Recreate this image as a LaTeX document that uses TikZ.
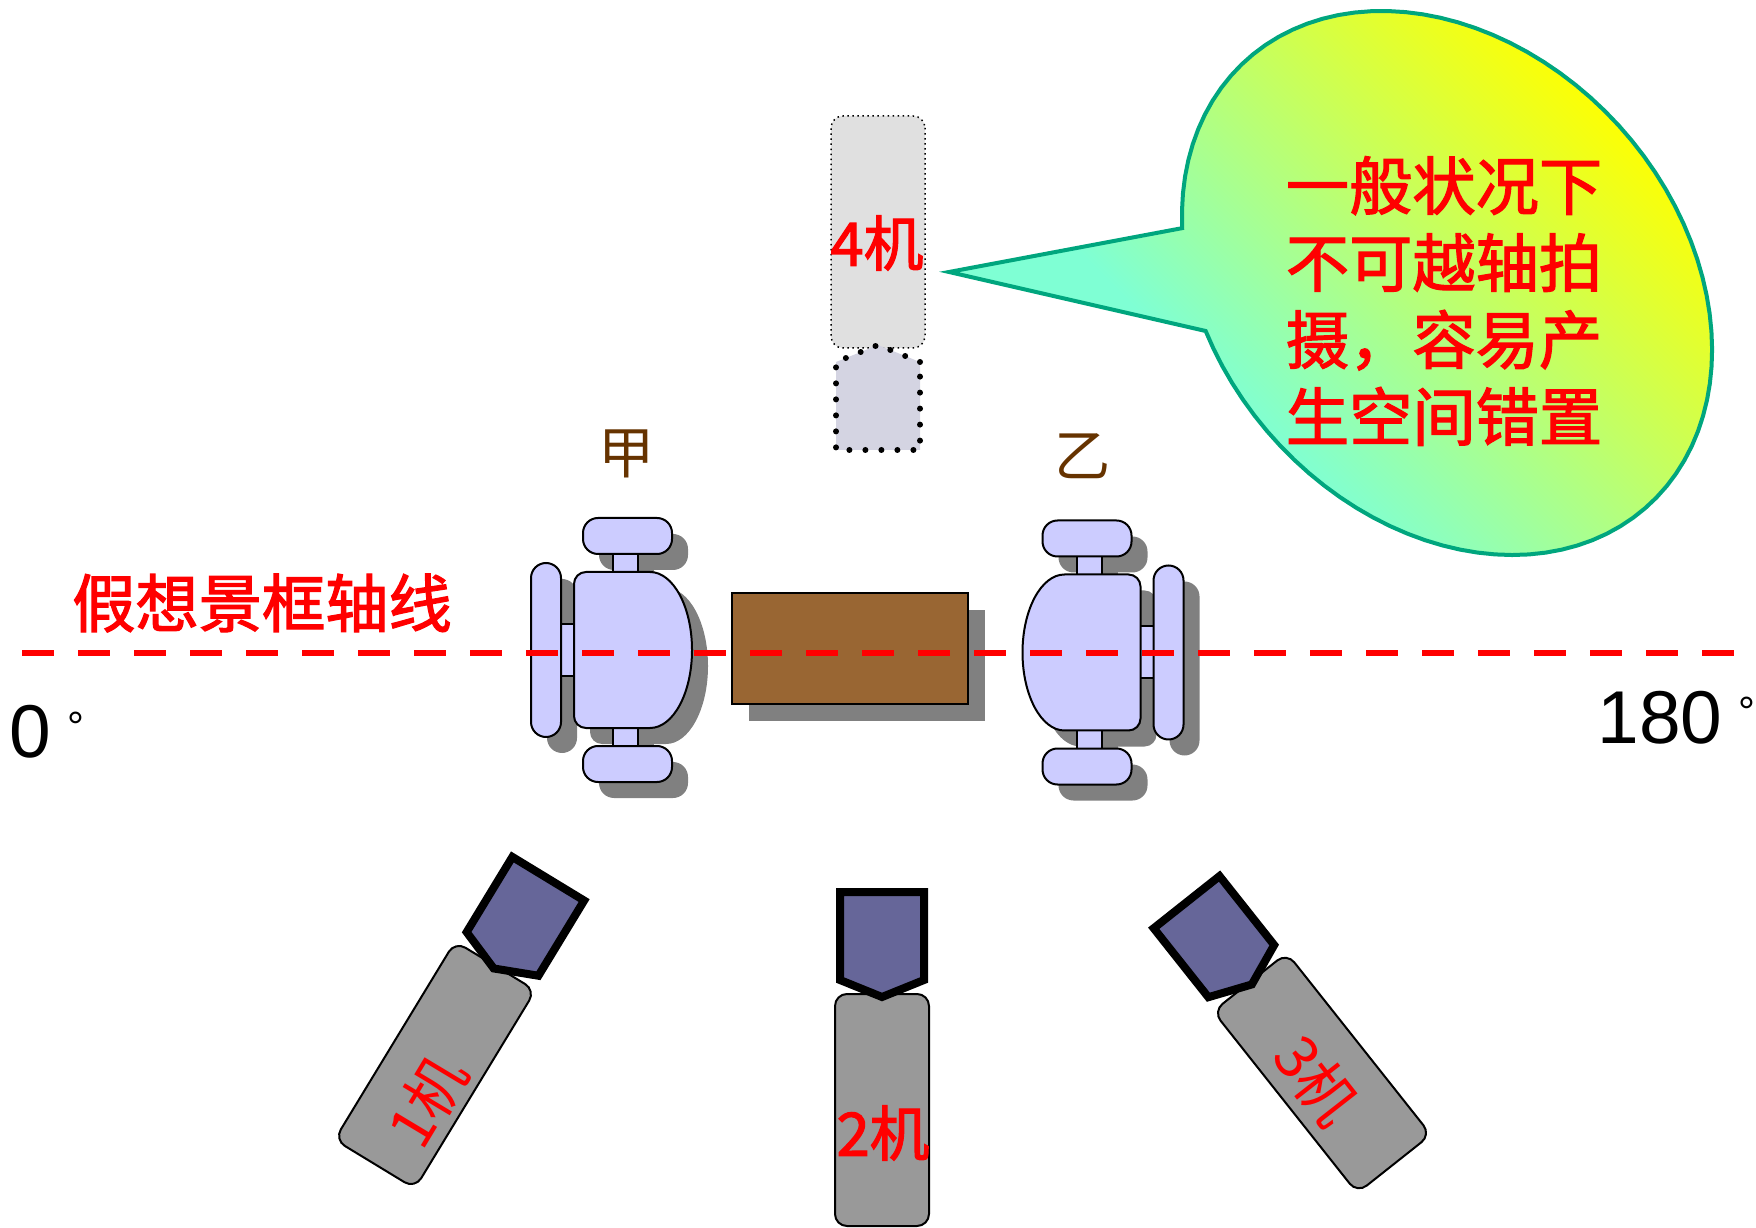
\documentclass[tikz,border=0pt]{standalone}
\usepackage{fontspec}
\setmainfont{Liberation Sans}
\newfontfamily\cjk{Noto Sans CJK SC}[AutoFakeBold=2]

\definecolor{seatblue}{RGB}{204,204,255}
\definecolor{shadowgray}{RGB}{128,128,128}
\definecolor{deskbrown}{RGB}{153,102,51}
\definecolor{bodygray}{RGB}{153,153,153}
\definecolor{lensblue}{RGB}{102,102,153}
\definecolor{namebrown}{RGB}{102,51,0}
\definecolor{bubbleline}{RGB}{0,166,126}
\definecolor{aqua}{RGB}{127,255,212}
\definecolor{ghostgray}{RGB}{224,224,224}
\definecolor{ghostlens}{RGB}{212,212,226}

% aqua in the lower left, yellow in the upper right
\pgfdeclareverticalshading{bubblefill}{100bp}{color(0bp)=(aqua); color(38bp)=(aqua); color(75bp)=(yellow); color(100bp)=(yellow)}

\tikzset{
  chairpart/.style={fill=seatblue, draw=black, line width=0.02cm},
  chairshadow/.style={fill=shadowgray, draw=none},
  cambody/.style={fill=bodygray, draw=black, line width=0.02cm},
  camlens/.style={fill=lensblue, draw=black, line width=0.08cm, line join=miter},
  camlabel/.style={text=red, inner sep=0, font=\cjk\fontsize{17}{17}\selectfont},
  namelabel/.style={text=namebrown, inner sep=0, font=\cjk\fontsize{16}{16}\selectfont},
  anglabel/.style={inner sep=0, anchor=base west, font=\fontsize{21.3}{24}\selectfont},
  axisline/.style={red, line width=0.06cm, dash pattern=on 0.32cm off 0.24cm},
  bubble/.style={draw=bubbleline, line width=0.04cm, shading=bubblefill, shading angle=-45},
  % chair seen from above, back rest on the left
  chair/.pic={
    \path[pic actions] (-0.20,0.77) rectangle (0.05,0.97);
    \path[pic actions] (-0.20,-0.97) rectangle (0.05,-0.77);
    \path[pic actions, rounded corners=0.15cm] (-0.50,0.96) rectangle (0.39,1.32);
    \path[pic actions, rounded corners=0.15cm] (-0.50,-1.32) rectangle (0.39,-0.96);
    \path[pic actions] (-0.74,-0.26) rectangle (-0.58,0.26);
    \path[pic actions, rounded corners=0.15cm] (-1.02,-0.87) rectangle (-0.72,0.87);
    \path[pic actions] (0.17,0.78) arc[start angle=90, end angle=-90, x radius=0.42, y radius=0.78]
      -- (-0.47,-0.78) arc[start angle=-90, end angle=-180, radius=0.12]
      -- (-0.59,0.66) arc[start angle=180, end angle=90, radius=0.12] -- cycle;
  },
  % camera body with its lens on top
  camera/.pic={
    \path[cambody, rounded corners=0.12cm] (-0.47,-1.16) rectangle (0.47,1.16);
    \path[camlens] (-0.42,1.30) -- (0,1.13) -- (0.42,1.30) -- (0.42,2.18) -- (-0.42,2.18) -- cycle;
  }
}

\begin{document}
\begin{tikzpicture}
\useasboundingbox (0,0) rectangle (17.56,-12.28);

% speech bubble: tilted ellipse with a wedge pointing left
\draw[bubble] (9.49,-2.72) -- plot[domain=-114.8:223.4, samples=90, variable=\t]
  ({14.47+2.0073*cos(\t)+1.7314*sin(\t)}, {-2.83-2.2293*cos(\t)+1.5590*sin(\t)}) -- cycle;
\node[text=red, align=center, inner sep=0, font=\cjk\bfseries\fontsize{18}{21.9}\selectfont] (rule)
  at (14.44,-3.01) {一般状况下\\不可越轴拍\\摄，容易产\\生空间错置};

% the two people, shadows first
\pic[chairshadow] at (6.49,-6.66) {chair};
\pic[chairshadow, xscale=-1] at (10.975,-6.685) {chair};
\pic[chairpart] at (6.33,-6.50) {chair};
\pic[chairpart, xscale=-1] at (10.815,-6.525) {chair};
\node[namelabel] (jia) at (6.27,-4.54) {甲};
\node[namelabel] (yi) at (10.83,-4.56) {乙};

% table between them
\fill[shadowgray] (7.49,-6.10) rectangle (9.85,-7.21);
\draw[fill=deskbrown, line width=0.02cm] (7.32,-5.93) rectangle (9.68,-7.04);

% axis of action
\coordinate (axisL) at (0.22,-6.53);
\coordinate (axisR) at (17.34,-6.53);
\draw[axisline] (axisL) -- (axisR);
\node[text=red, inner sep=0, font=\cjk\bfseries\fontsize{18}{18}\selectfont] (axisname) at (2.62,-6.03) {假想景框轴线};
\node[anglabel] (deg0) at (0.09,-7.57) {0\hspace{0.16cm}\raisebox{0.16cm}{\fontsize{12}{12}\selectfont °}};
\node[anglabel] (deg180) at (15.97,-7.43) {180\hspace{0.16cm}\raisebox{0.16cm}{\fontsize{12}{12}\selectfont °}};

% cameras 1 to 3 on one side of the axis
\pic[rotate=-31.3] at (4.35,-10.65) {camera};
\pic at (8.82,-11.10) {camera};
\pic[rotate=38.4] at (13.22,-10.73) {camera};
\node[camlabel, rotate=59] (cam1) at (4.27,-11.01) {1机};
\node[camlabel, font=\cjk\bfseries\fontsize{17}{17}\selectfont] (cam2) at (8.83,-11.33) {2机};
\node[camlabel, rotate=-52] (cam3) at (13.17,-10.80) {3机};

% camera 4 across the axis, only dotted
\begin{scope}[cambody/.style={fill=ghostgray, draw=black, densely dotted, line width=0.015cm},
  camlens/.style={fill=ghostlens, draw=black, line width=0.06cm, dash pattern=on 0pt off 0.16cm, line cap=round}]
\pic[rotate=180] at (8.78,-2.32) {camera};
\end{scope}
\node[camlabel, font=\cjk\bfseries\fontsize{17}{17}\selectfont] (cam4) at (8.77,-2.43) {4机};

\end{tikzpicture}
\end{document}
